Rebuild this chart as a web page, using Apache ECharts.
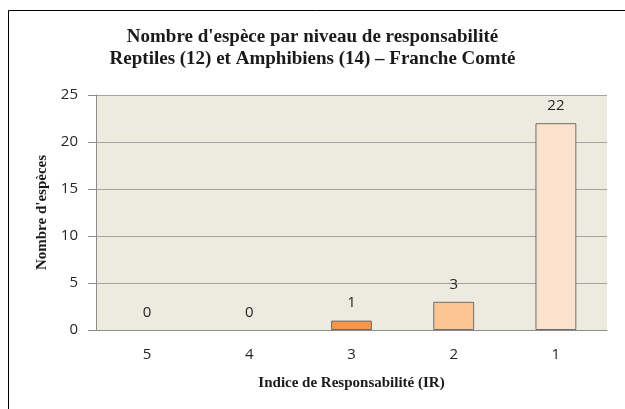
<!DOCTYPE html>
<html>
<head>
<meta charset="utf-8">
<script src="https://cdn.jsdelivr.net/npm/echarts@6/dist/echarts.min.js"></script>
<style>
html, body { margin: 0; padding: 0; background: #fff; }
#chart { width: 625px; height: 409px; }
</style>
</head>
<body>
<div id="chart"></div>
<script>
// Indice de responsabilité (IR) et nombre d'espèces
var categories = ['5', '4', '3', '2', '1'];
var values = [0, 0, 1, 3, 22];
var barColors = ['#F79646', '#F79646', '#F79646', '#FAC593', '#FCE2CC'];
var yTicks = [0, 5, 10, 15, 20, 25];

var serif = '"Liberation Serif", "DejaVu Serif", serif';
var sans = '"Open Sans", "Noto Sans", sans-serif';

var myChart = echarts.init(document.getElementById('chart'));

var option = {
    animation: false,
    backgroundColor: '#ffffff',
    title: {
        text: "Nombre d'espèce par niveau de responsabilité\nReptiles (12) et Amphibiens (14) – Franche Comté",
        left: 'center',
        top: 21,
        textStyle: {
            fontFamily: serif,
            fontWeight: 'bold',
            fontSize: 19,
            color: '#1a1a1a',
            lineHeight: 22
        }
    },
    graphic: [
        // cadre du graphique (haut et gauche)
        {type: 'line', shape: {x1: 8.5, y1: 10.5, x2: 625, y2: 10.5}, style: {stroke: '#000', lineWidth: 1}},
        {type: 'line', shape: {x1: 8.5, y1: 10.5, x2: 8.5, y2: 409}, style: {stroke: '#000', lineWidth: 1}}
    ],
    grid: {
        left: 96,
        right: 18,
        top: 95,
        bottom: 79,
        show: true,
        backgroundColor: '#EDEAE0',
        borderWidth: 0
    },
    xAxis: {
        type: 'category',
        data: categories,
        name: 'Indice de Responsabilité (IR)',
        nameLocation: 'middle',
        nameGap: 46,
        nameTextStyle: {fontFamily: serif, fontWeight: 'bold', fontSize: 15, color: '#1a1a1a'},
        axisLine: {lineStyle: {color: '#8c8c8c', width: 1}},
        axisTick: {show: false},
        axisLabel: {fontFamily: sans, fontSize: 15, color: '#262626', margin: 17}
    },
    yAxis: {
        type: 'value',
        min: 0,
        max: 25,
        interval: 5,
        name: "Nombre d'espèces",
        nameLocation: 'middle',
        nameGap: 46,
        nameTextStyle: {fontFamily: serif, fontWeight: 'bold', fontSize: 15, color: '#1a1a1a'},
        axisLine: {show: true, lineStyle: {color: '#8c8c8c', width: 1}},
        axisTick: {show: true, length: 8, lineStyle: {color: '#8c8c8c'}},
        axisLabel: {
            fontFamily: sans, fontSize: 15, color: '#262626', margin: 18,
            formatter: function (v) { return yTicks.indexOf(v) >= 0 ? String(v) : ''; }
        },
        splitLine: {show: true, lineStyle: {color: '#A3A3A3', width: 1}}
    },
    series: [
        {
            type: 'bar',
            barWidth: '40%',
            data: values.map(function (v, i) {
                return {
                    value: v,
                    itemStyle: {color: barColors[i], borderWidth: v === 0 ? 0 : 1}
                };
            }),
            itemStyle: {borderColor: '#6e6e6e'},
            label: {
                show: true,
                position: 'top',
                distance: 10,
                fontFamily: sans,
                fontSize: 15,
                color: '#262626'
            }
        }
    ]
};

myChart.setOption(option);
</script>
</body>
</html>
